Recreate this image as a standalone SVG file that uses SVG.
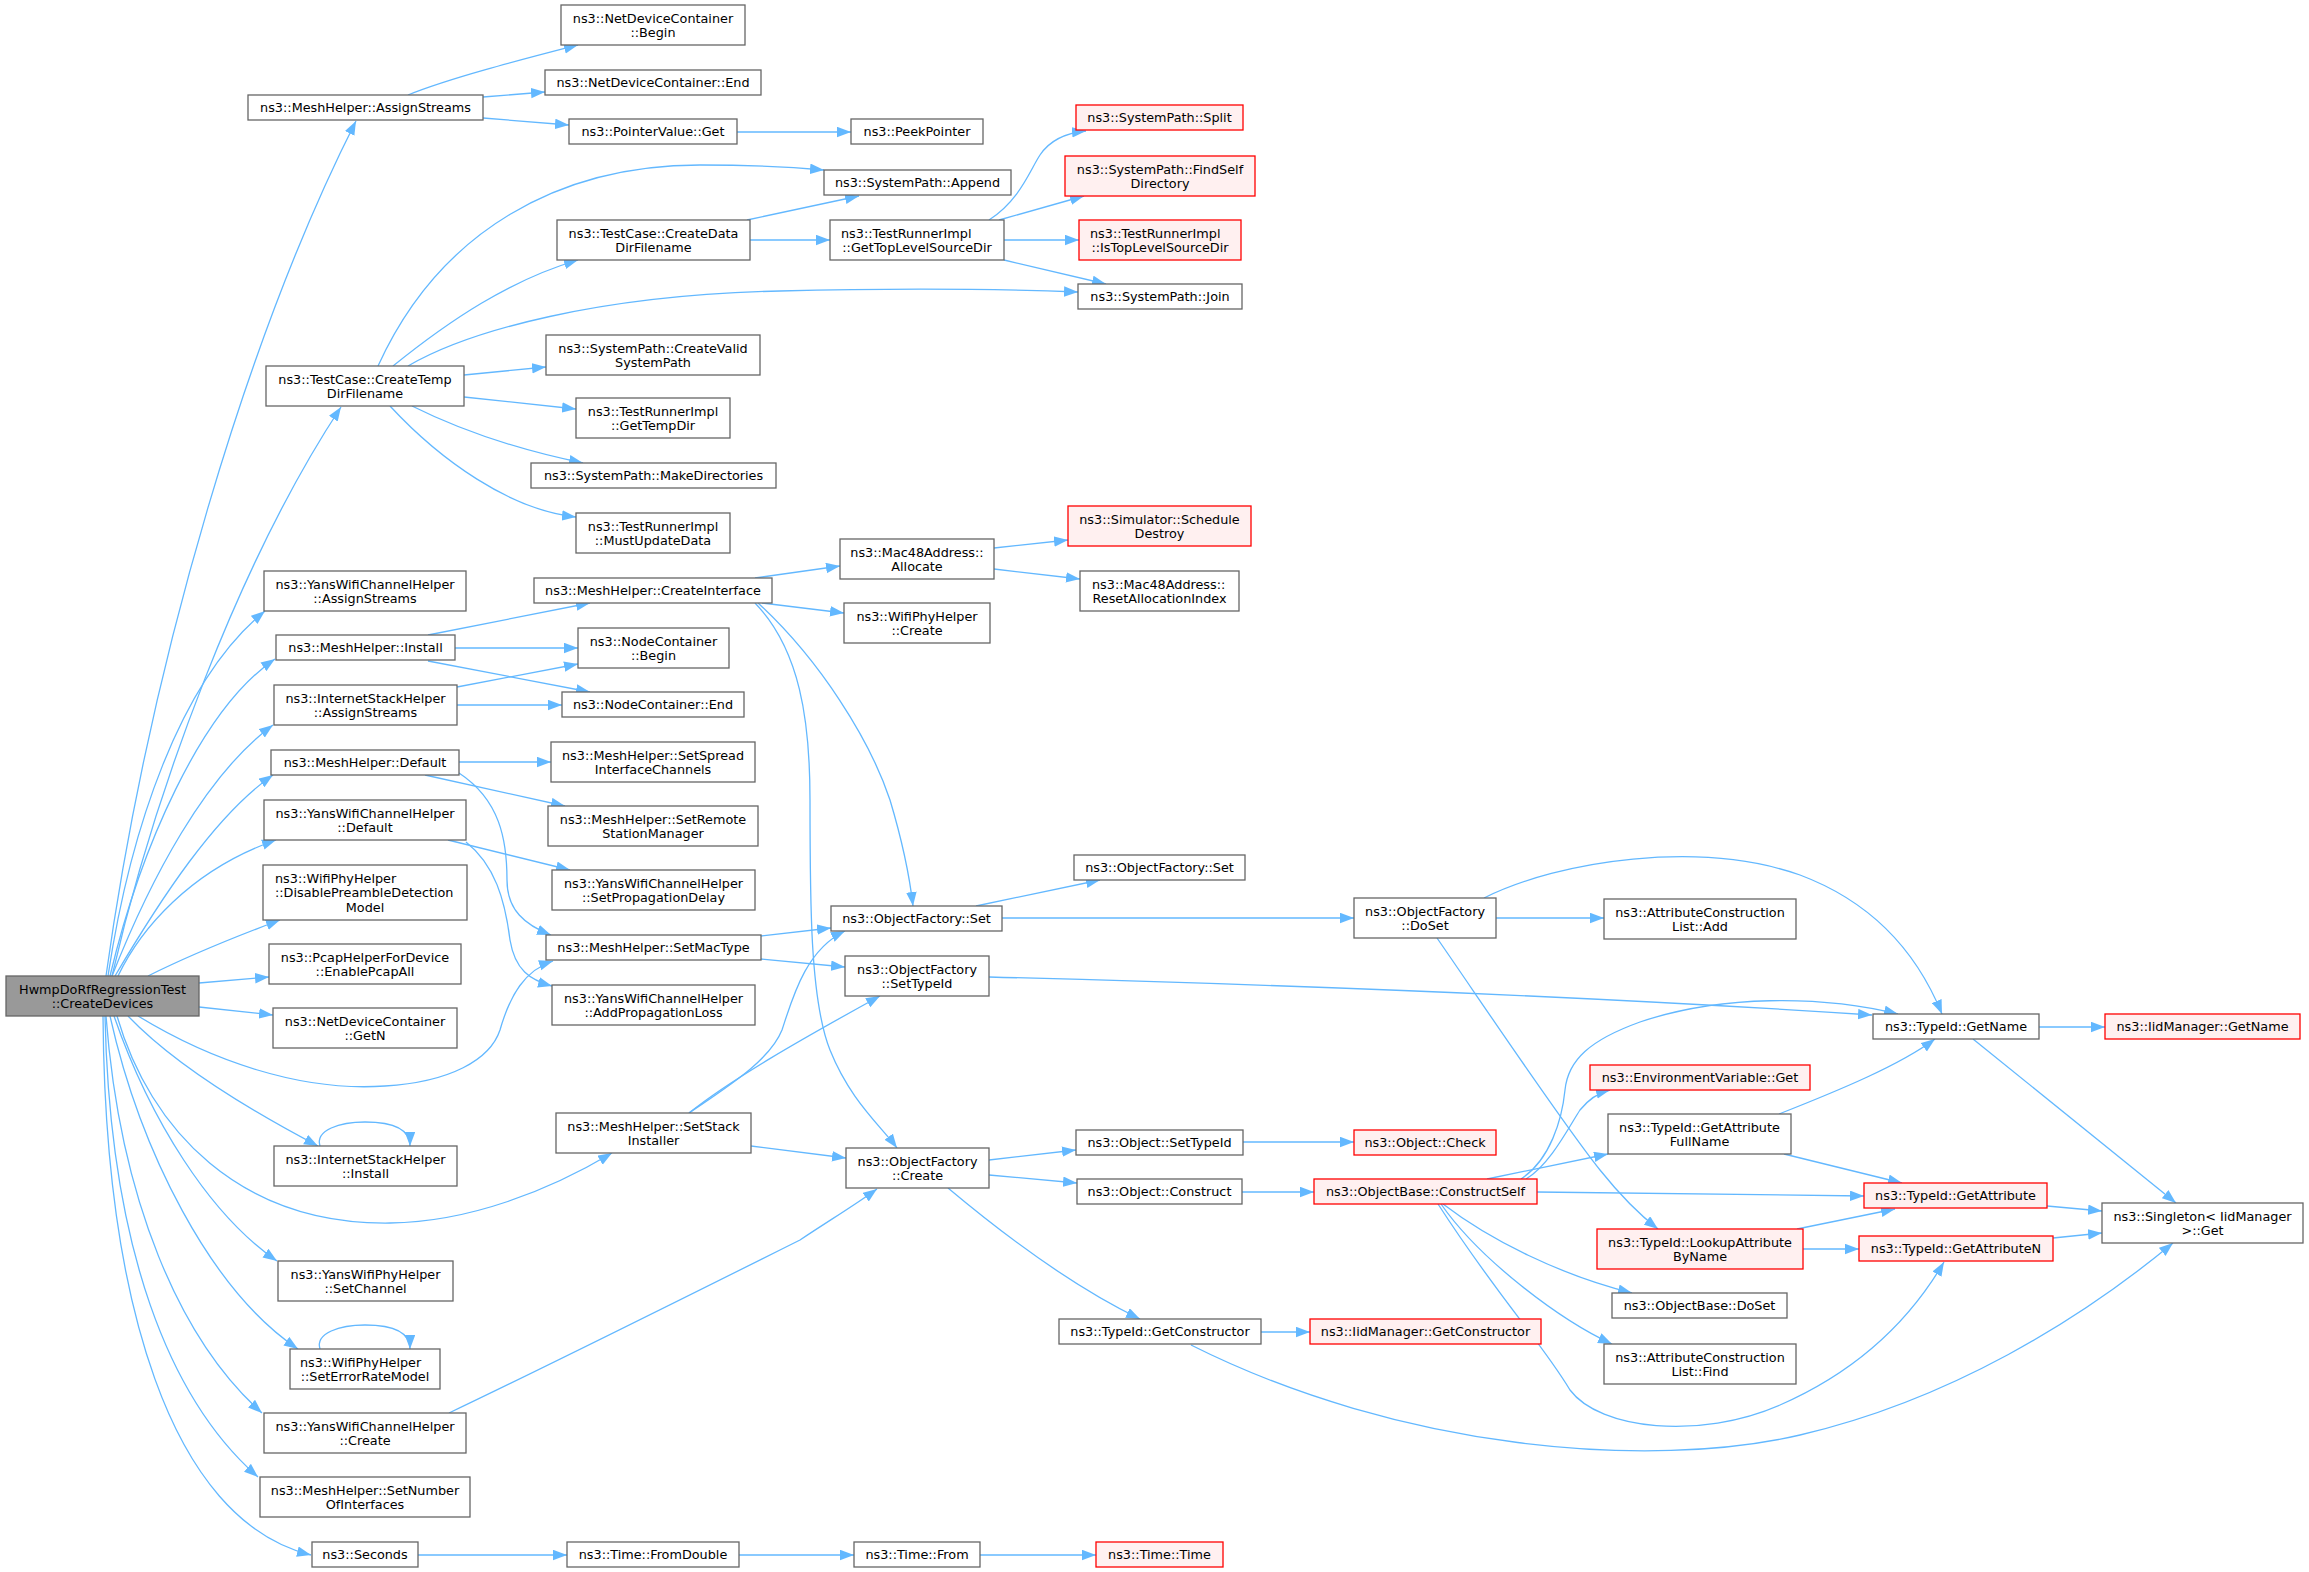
<svg xmlns="http://www.w3.org/2000/svg" width="2309" height="1572" viewBox="0 0 2309 1572">
<style>
rect{fill:#fff;stroke:#666;stroke-width:1.3}
.red rect{fill:#fff0f0;stroke:#f00}
.root rect{fill:#999}
text{font-family:"DejaVu Sans",sans-serif;font-size:12.8px;fill:#000;text-anchor:middle}
text.l{text-anchor:start}
#edges path{fill:none;stroke:#63b8ff;stroke-width:1.3;marker-end:url(#a)}
</style>
<defs>
<marker id="a" markerUnits="userSpaceOnUse" markerWidth="15" markerHeight="11" refX="14" refY="5.25" orient="auto"><path d="M0,0 L14,5.25 L0,10.5 z" fill="#63b8ff"/></marker>
</defs>
<rect x="0" y="0" width="2309" height="1572" style="fill:#fff;stroke:none"/>
<g id="edges">
<path d="M106,976 C150,660 250,330 356,121"/>
<path d="M112,976 C155,790 240,560 341,407"/>
<path d="M108,976 C130,830 180,680 265,611"/>
<path d="M110,976 C140,850 200,710 275,659"/>
<path d="M112,976 C150,880 205,775 273,725"/>
<path d="M115,976 C160,900 215,815 273,775"/>
<path d="M118,976 C140,930 190,870 276,840"/>
<path d="M148,976 C190,955 240,935 280,920"/>
<path d="M199,983 L269,977"/>
<path d="M199,1007 L273,1015"/>
<path d="M138,1016 C210,1060 300,1092 385,1086 C450,1082 490,1060 500,1030 C510,995 525,970 553,961"/>
<path d="M128,1016 C170,1060 240,1105 318,1146"/>
<path d="M117,1016 C150,1130 240,1225 390,1223 C470,1222 550,1190 612,1153"/>
<path d="M114,1016 C150,1120 210,1215 277,1261"/>
<path d="M110,1016 C140,1150 210,1290 298,1349"/>
<path d="M106,1016 C120,1200 180,1340 262,1413"/>
<path d="M105,1016 C110,1250 170,1400 258,1477"/>
<path d="M103,1016 C105,1300 170,1520 311,1555"/>
<path d="M408,95 C450,78 520,60 578,45"/>
<path d="M483,97 L545,92"/>
<path d="M483,118 L569,125"/>
<path d="M737,132 L851,132"/>
<path d="M378,366 C440,230 560,165 700,165 C750,165 790,167 824,170"/>
<path d="M393,366 C450,320 510,280 578,260"/>
<path d="M408,366 C470,330 600,295 780,291 C900,288 1000,289 1078,292"/>
<path d="M464,375 L546,367"/>
<path d="M464,397 L576,409"/>
<path d="M412,406 C460,430 520,450 583,463"/>
<path d="M390,406 C440,460 510,510 576,517"/>
<path d="M747,220 L859,196"/>
<path d="M750,240 L830,240"/>
<path d="M989,220 C1020,200 1030,170 1040,155 C1050,140 1065,133 1086,131"/>
<path d="M999,220 L1084,196"/>
<path d="M1004,240 L1079,240"/>
<path d="M1004,260 L1106,284"/>
<path d="M428,635 L590,603"/>
<path d="M455,648 L578,648"/>
<path d="M428,661 L590,692"/>
<path d="M457,687 L578,664"/>
<path d="M457,705 L562,705"/>
<path d="M459,762 L551,762"/>
<path d="M425,775 L565,806"/>
<path d="M459,773 C500,800 507,840 507,880 C507,910 525,925 551,935"/>
<path d="M448,840 L570,870"/>
<path d="M466,842 C495,865 505,900 510,940 C515,970 530,980 552,986"/>
<path d="M755,578 L840,566"/>
<path d="M762,603 L844,613"/>
<path d="M758,603 C820,660 870,740 890,800 C905,850 910,880 913,906"/>
<path d="M755,603 C800,650 810,720 810,800 C810,900 810,1000 830,1050 C850,1100 880,1125 897,1148"/>
<path d="M994,548 L1068,540"/>
<path d="M994,569 L1080,579"/>
<path d="M761,936 L831,928"/>
<path d="M761,959 L845,967"/>
<path d="M689,1113 C730,1085 770,1060 782,1030 C792,1000 805,950 845,931"/>
<path d="M689,1113 C730,1080 800,1040 880,996"/>
<path d="M751,1146 L846,1158"/>
<path d="M449,1413 C560,1360 720,1280 800,1240 C830,1220 855,1205 877,1189"/>
<path d="M976,906 L1100,880"/>
<path d="M1002,918 L1354,918"/>
<path d="M989,977 C1300,985 1600,997 1872,1015"/>
<path d="M989,1160 L1076,1150"/>
<path d="M989,1175 L1077,1183"/>
<path d="M948,1188 C1010,1240 1080,1290 1140,1319"/>
<path d="M1243,1142 L1354,1142"/>
<path d="M1242,1192 L1314,1192"/>
<path d="M1261,1332 L1310,1332"/>
<path d="M1191,1345 C1400,1450 1650,1470 1800,1435 C1950,1400 2080,1320 2173,1243"/>
<path d="M1496,918 L1604,918"/>
<path d="M1484,898 C1560,860 1700,840 1800,875 C1880,905 1920,960 1942,1014"/>
<path d="M1437,938 C1480,1000 1560,1120 1600,1170 C1620,1195 1640,1215 1658,1229"/>
<path d="M1521,1179 C1550,1160 1562,1120 1565,1090 C1568,1060 1590,1040 1640,1022 C1720,995 1820,995 1898,1014"/>
<path d="M1526,1179 C1550,1165 1570,1125 1580,1110 C1588,1100 1598,1093 1610,1090"/>
<path d="M1487,1179 L1608,1154"/>
<path d="M1537,1192 L1864,1196"/>
<path d="M1443,1204 C1490,1240 1560,1275 1632,1293"/>
<path d="M1441,1204 C1480,1260 1560,1320 1612,1344"/>
<path d="M1438,1204 C1500,1300 1540,1340 1570,1390 C1600,1430 1700,1440 1780,1405 C1860,1370 1910,1320 1944,1262"/>
<path d="M1779,1114 C1840,1090 1900,1065 1935,1039"/>
<path d="M1784,1154 L1902,1183"/>
<path d="M1797,1229 L1895,1209"/>
<path d="M1803,1249 L1859,1249"/>
<path d="M2039,1027 L2105,1027"/>
<path d="M1973,1039 L2176,1203"/>
<path d="M2047,1206 L2102,1211"/>
<path d="M2053,1238 L2102,1233"/>
<path d="M320,1146 C315,1130 340,1122 365,1122 C390,1122 410,1128 410,1146"/>
<path d="M320,1349 C315,1333 340,1325 365,1325 C390,1325 410,1331 410,1349"/>
<path d="M418,1555 L567,1555"/>
<path d="M739,1555 L854,1555"/>
<path d="M980,1555 L1096,1555"/>
</g>
<g id="n0" class="root"><rect x="6" y="976" width="193" height="40"/><text x="102.5" y="993.5">HwmpDoRfRegressionTest</text><text x="102.5" y="1008">::CreateDevices</text></g>
<g id="n1"><rect x="248" y="95" width="235" height="25"/><text x="365.5" y="112">ns3::MeshHelper::AssignStreams</text></g>
<g id="n2"><rect x="266" y="366" width="198" height="40"/><text x="365" y="383.5">ns3::TestCase::CreateTemp</text><text x="365" y="398">DirFilename</text></g>
<g id="n3"><rect x="264" y="571" width="202" height="40"/><text x="365" y="588.5">ns3::YansWifiChannelHelper</text><text x="365" y="603">::AssignStreams</text></g>
<g id="n4"><rect x="276" y="635" width="179" height="25"/><text x="365.5" y="652">ns3::MeshHelper::Install</text></g>
<g id="n5"><rect x="274" y="685" width="183" height="40"/><text x="365.5" y="702.5">ns3::InternetStackHelper</text><text x="365.5" y="717">::AssignStreams</text></g>
<g id="n6"><rect x="271" y="750" width="188" height="25"/><text x="365" y="767">ns3::MeshHelper::Default</text></g>
<g id="n7"><rect x="264" y="800" width="202" height="40"/><text x="365" y="817.5">ns3::YansWifiChannelHelper</text><text x="365" y="832">::Default</text></g>
<g id="n8"><rect x="263" y="865" width="204" height="55"/><text class="l" x="275" y="882.5">ns3::WifiPhyHelper</text><text class="l" x="275" y="897">::DisablePreambleDetection</text><text x="365" y="911.5">Model</text></g>
<g id="n9"><rect x="269" y="944" width="192" height="40"/><text x="365" y="961.5">ns3::PcapHelperForDevice</text><text x="365" y="976">::EnablePcapAll</text></g>
<g id="n10"><rect x="273" y="1008" width="184" height="40"/><text x="365" y="1025.5">ns3::NetDeviceContainer</text><text x="365" y="1040">::GetN</text></g>
<g id="n11"><rect x="274" y="1146" width="183" height="40"/><text x="365.5" y="1163.5">ns3::InternetStackHelper</text><text x="365.5" y="1178">::Install</text></g>
<g id="n12"><rect x="278" y="1261" width="175" height="40"/><text x="365.5" y="1278.5">ns3::YansWifiPhyHelper</text><text x="365.5" y="1293">::SetChannel</text></g>
<g id="n13"><rect x="290" y="1349" width="150" height="40"/><text class="l" x="300" y="1366.5">ns3::WifiPhyHelper</text><text x="365" y="1381">::SetErrorRateModel</text></g>
<g id="n14"><rect x="264" y="1413" width="202" height="40"/><text x="365" y="1430.5">ns3::YansWifiChannelHelper</text><text x="365" y="1445">::Create</text></g>
<g id="n15"><rect x="260" y="1477" width="210" height="40"/><text x="365" y="1494.5">ns3::MeshHelper::SetNumber</text><text x="365" y="1509">OfInterfaces</text></g>
<g id="n16"><rect x="312" y="1542" width="106" height="25"/><text x="365" y="1559">ns3::Seconds</text></g>
<g id="n17"><rect x="561" y="5" width="184" height="40"/><text x="653" y="22.5">ns3::NetDeviceContainer</text><text x="653" y="37">::Begin</text></g>
<g id="n18"><rect x="545" y="70" width="216" height="25"/><text x="653" y="87">ns3::NetDeviceContainer::End</text></g>
<g id="n19"><rect x="569" y="119" width="168" height="25"/><text x="653" y="136">ns3::PointerValue::Get</text></g>
<g id="n20"><rect x="557" y="220" width="193" height="40"/><text x="653.5" y="237.5">ns3::TestCase::CreateData</text><text x="653.5" y="252">DirFilename</text></g>
<g id="n21"><rect x="546" y="335" width="214" height="40"/><text x="653" y="352.5">ns3::SystemPath::CreateValid</text><text x="653" y="367">SystemPath</text></g>
<g id="n22"><rect x="576" y="398" width="154" height="40"/><text x="653" y="415.5">ns3::TestRunnerImpl</text><text x="653" y="430">::GetTempDir</text></g>
<g id="n23"><rect x="531" y="463" width="245" height="25"/><text x="653.5" y="480">ns3::SystemPath::MakeDirectories</text></g>
<g id="n24"><rect x="576" y="513" width="154" height="40"/><text x="653" y="530.5">ns3::TestRunnerImpl</text><text x="653" y="545">::MustUpdateData</text></g>
<g id="n25"><rect x="534" y="578" width="238" height="25"/><text x="653" y="595">ns3::MeshHelper::CreateInterface</text></g>
<g id="n26"><rect x="578" y="628" width="151" height="40"/><text x="653.5" y="645.5">ns3::NodeContainer</text><text x="653.5" y="660">::Begin</text></g>
<g id="n27"><rect x="562" y="692" width="182" height="25"/><text x="653" y="709">ns3::NodeContainer::End</text></g>
<g id="n28"><rect x="551" y="742" width="204" height="40"/><text x="653" y="759.5">ns3::MeshHelper::SetSpread</text><text x="653" y="774">InterfaceChannels</text></g>
<g id="n29"><rect x="548" y="806" width="210" height="40"/><text x="653" y="823.5">ns3::MeshHelper::SetRemote</text><text x="653" y="838">StationManager</text></g>
<g id="n30"><rect x="552" y="870" width="203" height="40"/><text x="653.5" y="887.5">ns3::YansWifiChannelHelper</text><text x="653.5" y="902">::SetPropagationDelay</text></g>
<g id="n31"><rect x="546" y="935" width="215" height="25"/><text x="653.5" y="952">ns3::MeshHelper::SetMacType</text></g>
<g id="n32"><rect x="552" y="985" width="203" height="40"/><text x="653.5" y="1002.5">ns3::YansWifiChannelHelper</text><text x="653.5" y="1017">::AddPropagationLoss</text></g>
<g id="n33"><rect x="556" y="1113" width="195" height="40"/><text x="653.5" y="1130.5">ns3::MeshHelper::SetStack</text><text x="653.5" y="1145">Installer</text></g>
<g id="n34"><rect x="567" y="1542" width="172" height="25"/><text x="653" y="1559">ns3::Time::FromDouble</text></g>
<g id="n35"><rect x="851" y="119" width="132" height="25"/><text x="917" y="136">ns3::PeekPointer</text></g>
<g id="n36"><rect x="824" y="170" width="187" height="25"/><text x="917.5" y="187">ns3::SystemPath::Append</text></g>
<g id="n37"><rect x="830" y="220" width="174" height="40"/><text class="l" x="841" y="237.5">ns3::TestRunnerImpl</text><text x="917" y="252">::GetTopLevelSourceDir</text></g>
<g id="n38"><rect x="840" y="539" width="154" height="40"/><text x="917" y="556.5">ns3::Mac48Address::</text><text x="917" y="571">Allocate</text></g>
<g id="n39"><rect x="844" y="603" width="146" height="40"/><text x="917" y="620.5">ns3::WifiPhyHelper</text><text x="917" y="635">::Create</text></g>
<g id="n40"><rect x="831" y="906" width="171" height="25"/><text x="916.5" y="923">ns3::ObjectFactory::Set</text></g>
<g id="n41"><rect x="845" y="956" width="144" height="40"/><text x="917" y="973.5">ns3::ObjectFactory</text><text x="917" y="988">::SetTypeId</text></g>
<g id="n42"><rect x="846" y="1148" width="143" height="40"/><text x="917.5" y="1165.5">ns3::ObjectFactory</text><text x="917.5" y="1180">::Create</text></g>
<g id="n43"><rect x="854" y="1542" width="126" height="25"/><text x="917" y="1559">ns3::Time::From</text></g>
<g id="n44" class="red"><rect x="1076" y="105" width="167" height="25"/><text x="1159.5" y="122">ns3::SystemPath::Split</text></g>
<g id="n45" class="red"><rect x="1065" y="156" width="190" height="40"/><text x="1160" y="173.5">ns3::SystemPath::FindSelf</text><text x="1160" y="188">Directory</text></g>
<g id="n46" class="red"><rect x="1079" y="220" width="162" height="40"/><text class="l" x="1090" y="237.5">ns3::TestRunnerImpl</text><text x="1160" y="252">::IsTopLevelSourceDir</text></g>
<g id="n47"><rect x="1078" y="284" width="164" height="25"/><text x="1160" y="301">ns3::SystemPath::Join</text></g>
<g id="n48" class="red"><rect x="1068" y="506" width="183" height="40"/><text x="1159.5" y="523.5">ns3::Simulator::Schedule</text><text x="1159.5" y="538">Destroy</text></g>
<g id="n49"><rect x="1080" y="571" width="159" height="40"/><text class="l" x="1092" y="588.5">ns3::Mac48Address::</text><text x="1159.5" y="603">ResetAllocationIndex</text></g>
<g id="n50"><rect x="1074" y="855" width="171" height="25"/><text x="1159.5" y="872">ns3::ObjectFactory::Set</text></g>
<g id="n51"><rect x="1076" y="1130" width="167" height="25"/><text x="1159.5" y="1147">ns3::Object::SetTypeId</text></g>
<g id="n52"><rect x="1077" y="1179" width="165" height="25"/><text x="1159.5" y="1196">ns3::Object::Construct</text></g>
<g id="n53"><rect x="1059" y="1319" width="202" height="25"/><text x="1160" y="1336">ns3::TypeId::GetConstructor</text></g>
<g id="n54" class="red"><rect x="1096" y="1542" width="127" height="25"/><text x="1159.5" y="1559">ns3::Time::Time</text></g>
<g id="n55"><rect x="1354" y="898" width="142" height="40"/><text x="1425" y="915.5">ns3::ObjectFactory</text><text x="1425" y="930">::DoSet</text></g>
<g id="n56" class="red"><rect x="1354" y="1130" width="142" height="25"/><text x="1425" y="1147">ns3::Object::Check</text></g>
<g id="n57" class="red"><rect x="1314" y="1179" width="223" height="25"/><text x="1425.5" y="1196">ns3::ObjectBase::ConstructSelf</text></g>
<g id="n58" class="red"><rect x="1310" y="1319" width="231" height="25"/><text x="1425.5" y="1336">ns3::IidManager::GetConstructor</text></g>
<g id="n59"><rect x="1604" y="899" width="192" height="40"/><text x="1700" y="916.5">ns3::AttributeConstruction</text><text x="1700" y="931">List::Add</text></g>
<g id="n60" class="red"><rect x="1590" y="1065" width="220" height="25"/><text x="1700" y="1082">ns3::EnvironmentVariable::Get</text></g>
<g id="n61"><rect x="1608" y="1114" width="183" height="40"/><text x="1699.5" y="1131.5">ns3::TypeId::GetAttribute</text><text x="1699.5" y="1146">FullName</text></g>
<g id="n62" class="red"><rect x="1597" y="1229" width="206" height="40"/><text x="1700" y="1246.5">ns3::TypeId::LookupAttribute</text><text x="1700" y="1261">ByName</text></g>
<g id="n63"><rect x="1612" y="1293" width="175" height="25"/><text x="1699.5" y="1310">ns3::ObjectBase::DoSet</text></g>
<g id="n64"><rect x="1604" y="1344" width="192" height="40"/><text x="1700" y="1361.5">ns3::AttributeConstruction</text><text x="1700" y="1376">List::Find</text></g>
<g id="n65"><rect x="1873" y="1014" width="166" height="25"/><text x="1956" y="1031">ns3::TypeId::GetName</text></g>
<g id="n66" class="red"><rect x="1864" y="1183" width="183" height="25"/><text x="1955.5" y="1200">ns3::TypeId::GetAttribute</text></g>
<g id="n67" class="red"><rect x="1859" y="1236" width="194" height="25"/><text x="1956" y="1253">ns3::TypeId::GetAttributeN</text></g>
<g id="n68" class="red"><rect x="2105" y="1014" width="195" height="25"/><text x="2202.5" y="1031">ns3::IidManager::GetName</text></g>
<g id="n69"><rect x="2102" y="1203" width="201" height="40"/><text x="2202.5" y="1220.5">ns3::Singleton&lt; IidManager</text><text x="2202.5" y="1235">&gt;::Get</text></g>
</svg>
